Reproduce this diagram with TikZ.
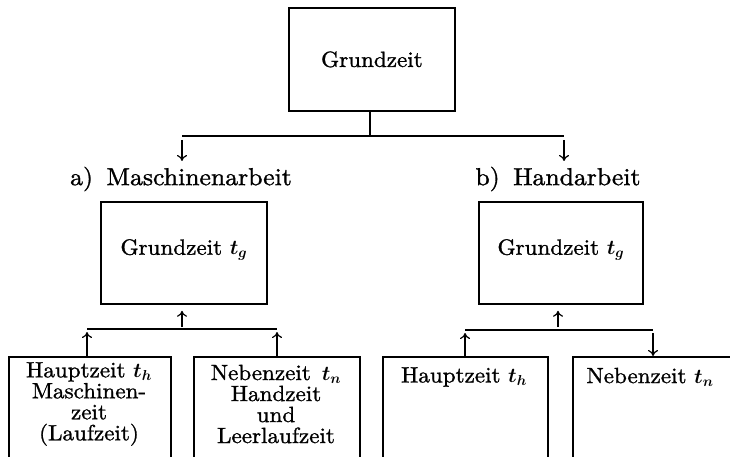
\documentclass[tikz,border=0pt]{standalone}
\usepackage{bm}
\usepackage{fontspec}
\setmainfont{lmroman10-regular.otf}[FakeStretch=1.05,FakeBold=1.2]
\usetikzlibrary{arrows.meta,calc}
\tikzset{
  box/.style={draw, line width=1.8pt, rectangle, inner sep=0pt},
  boxtext/.style={align=center, inner sep=0pt, font=\fontsize{22}{21}\selectfont},
  lbl/.style={inner sep=0pt, font=\fontsize{24.5}{26}\selectfont},
  conn/.style={line width=1.4pt},
  arr/.style={line width=1.2pt, -{Computer Modern Rightarrow[length=6pt,width=10pt]}}
}
\begin{document}
\begin{tikzpicture}[x=1pt,y=-1pt]
\useasboundingbox (0,0) rectangle (730,457);
\clip (0,0) rectangle (730,457);
% top
\node[box, minimum width=166pt, minimum height=103pt, anchor=north west] (top) at (288,7) {};
\node[boxtext] (toptext) at (top.center) {Grundzeit};
\coordinate (jtop) at (370,136);
\coordinate (jL) at (182,136);
\coordinate (jR) at (564,136);
\draw[conn] (top.south -| jtop) -- (jtop);
\draw[conn] (jL) -- (jR);
% labels
\node[lbl] (la) at (181,179) {a)\hspace{0.55em}Maschinenarbeit};
\node[lbl] (lb) at (558,179) {b)\hspace{0.55em}Handarbeit};
\draw[arr] ($(jL)+(0,4)$) -- ($(jL)+(0,25)$);
\draw[arr] ($(jR)+(0,4)$) -- ($(jR)+(0,25)$);
% middle boxes
\node[box, minimum width=166pt, minimum height=102pt, anchor=north west] (mA) at (100,201) {};
\node[boxtext] at ($(mA.center)+(0,-3)$) {Grundzeit $\bm{t_g}$};
\node[box, minimum width=164pt, minimum height=102pt, anchor=north west] (mB) at (478,201) {};
\node[boxtext] at ($(mB.center)+(0,-3)$) {Grundzeit $\bm{t_g}$};
% bottom boxes (cut off by lower edge)
\node[box, minimum width=162pt, minimum height=120pt, anchor=north west] (a1) at (8,356) {};
\node[box, minimum width=166pt, minimum height=120pt, anchor=north west] (a2) at (193,356) {};
\node[box, minimum width=165pt, minimum height=120pt, anchor=north west] (b1) at (382,356) {};
\node[box, minimum width=180pt, minimum height=120pt, anchor=north west] (b2) at (572,356) {};
\node[boxtext] at (89,404) {Hauptzeit $\bm{t_h}$\\Maschinen-\\zeit\\(Laufzeit)};
\node[boxtext] at (276,404) {Nebenzeit\hspace{0.5em}$\bm{t_n}$\\Handzeit\\und\\Leerlaufzeit};
\node[boxtext] at (464,377) {Hauptzeit $\bm{t_h}$};
\node[boxtext] at (650,377) {Nebenzeit $\bm{t_n}$};
% left tree
\coordinate (hA1) at (87,329);
\coordinate (hA2) at (277,329);
\coordinate (hAm) at (182,329);
\draw[conn] (hA1) -- (hA2);
\draw[arr] ($(hAm)+(0,-2)$) -- ($(mA.south -| hAm)+(0,6)$);
\draw[arr] (a1.north -| hA1) -- ($(hA1)+(0,3)$);
\draw[arr] (a2.north -| hA2) -- ($(hA2)+(0,3)$);
% right tree
\coordinate (hB1) at (465,330);
\coordinate (hB2) at (653,330);
\coordinate (hBm) at (558,330);
\draw[conn] (hB1) -- (hB2);
\draw[arr] ($(hBm)+(0,-3)$) -- ($(mB.south -| hBm)+(0,6)$);
\draw[arr] (b1.north -| hB1) -- ($(hB1)+(0,3)$);
\draw[arr] ($(hB2)+(0,3)$) -- (b2.north -| hB2);
\end{tikzpicture}
\end{document}
